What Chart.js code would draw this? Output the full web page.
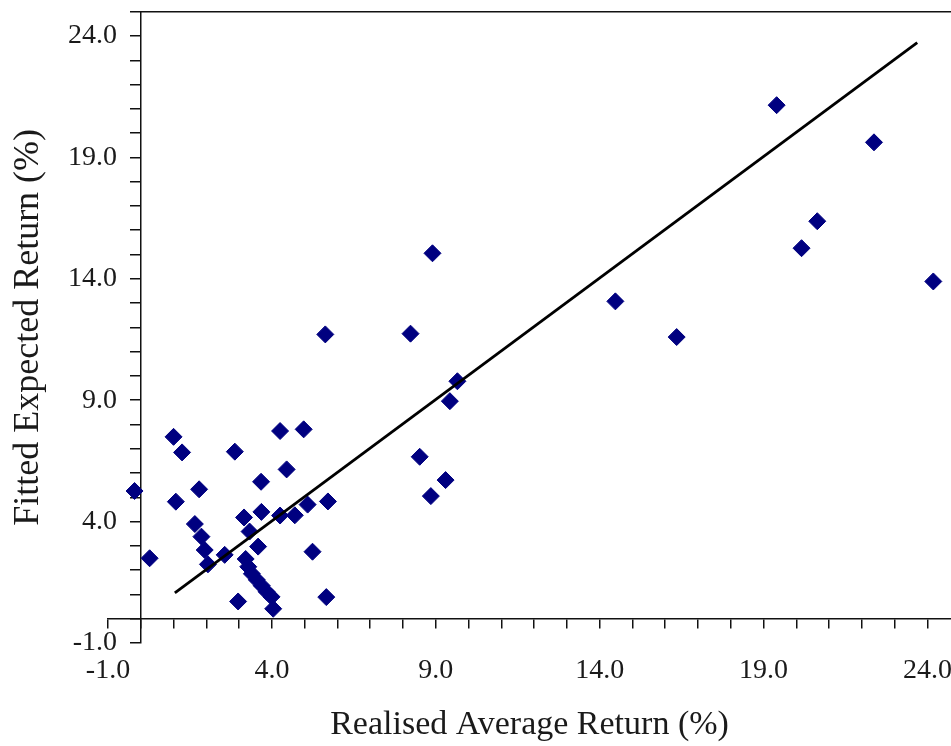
<!DOCTYPE html>
<html>
<head>
<meta charset="utf-8">
<script src="https://cdn.jsdelivr.net/npm/chart.js@4/dist/chart.umd.min.js"></script>
<style>
  html, body { margin: 0; padding: 0; background: #ffffff; overflow: hidden; }
  canvas { display: block; }
</style>
</head>
<body>
<canvas id="c" width="951" height="746"></canvas>
<script>
// ---- data ----
const realisedReturn = [
  1.00, 1.26, 2.87, 4.25, 4.97, -0.19, 1.78, 3.67, 4.45, 1.07,
  3.68, 3.15, 4.25, 4.70, 5.09, 5.71, 1.65, 1.85, 1.95, 2.05,
  0.27, 2.56, 3.32, 3.58, 5.24, 3.20, 3.28, 3.39, 3.54, 3.69,
  3.84, 3.99, 4.04, 2.97, 5.66, 5.63, 8.23, 8.90, 14.48, 16.35,
  9.66, 9.43, 8.51, 9.30, 8.85, 19.40, 22.37, 20.64, 20.16, 24.18
];
const fittedReturn = [
  7.49, 6.85, 6.88, 7.73, 7.80, 5.26, 5.33, 5.64, 6.15, 4.82,
  4.40, 4.17, 4.25, 4.26, 4.70, 4.83, 3.90, 3.38, 2.83, 2.24,
  2.49, 2.63, 3.59, 2.97, 2.76, 2.46, 2.14, 1.85, 1.60, 1.36,
  1.11, 0.90, 0.41, 0.71, 0.89, 11.71, 11.74, 15.05, 13.07, 11.60,
  9.78, 8.96, 6.67, 5.71, 5.05, 21.15, 19.62, 16.37, 15.26, 13.89
];
const fitLineX = [1.04, 23.69];
const fitLineY = [1.06, 23.73];
const tickValues = [-1, 4, 9, 14, 19, 24];
const xAxisTitle = 'Realised Average Return (%)';
const yAxisTitle = 'Fitted Expected Return (%)';

// ---- styling ----
const FONT = "'Liberation Serif', 'DejaVu Serif', serif";
const TEXT = '#1a1a1a';
const AXIS = '#111111';
const POINT = '#000080';

const points = realisedReturn.map((x, i) => ({ x: x, y: fittedReturn[i] }));
const fitLine = fitLineX.map((x, i) => ({ x: x, y: fitLineY[i] }));

const topFrame = {
  id: 'topFrame',
  afterDraw(chart) {
    const { ctx, chartArea, scales } = chart;
    const x0 = scales.x.getPixelForValue(0);
    const yTop = scales.y.getPixelForValue(scales.y.max);
    ctx.save();
    ctx.strokeStyle = AXIS;
    ctx.lineWidth = 1.5;
    ctx.beginPath();
    ctx.moveTo(x0, yTop);
    ctx.lineTo(chartArea.right, yTop);
    ctx.stroke();
    ctx.restore();
  }
};

new Chart(document.getElementById('c'), {
  type: 'scatter',
  data: {
    datasets: [
      {
        type: 'line',
        label: 'Fit',
        data: fitLine,
        borderColor: '#000000',
        borderWidth: 2.8,
        pointRadius: 0,
        fill: false,
        order: 0
      },
      {
        label: 'Portfolios',
        data: points,
        pointStyle: 'rectRot',
        pointRadius: 8.5,
        pointBackgroundColor: POINT,
        pointBorderColor: POINT,
        pointBorderWidth: 1,
        order: 1
      }
    ]
  },
  options: {
    responsive: false,
    devicePixelRatio: 1,
    animation: false,
    layout: { autoPadding: false, padding: { top: 11.7, right: 0, bottom: 0, left: 0 } },
    plugins: { legend: { display: false }, tooltip: { enabled: false } },
    scales: {
      x: {
        type: 'linear',
        position: 'bottom',
        min: -1,
        max: 24.72,
        border: { display: false },
        grid: { display: false, drawTicks: false, tickLength: 0 },
        afterBuildTicks: s => { s.ticks = tickValues.map(v => ({ value: v })); },
        ticks: {
          autoSkip: false, maxRotation: 0, padding: 11, color: TEXT,
          font: { family: FONT, size: 28 },
          callback: v => Number(v).toFixed(1)
        },
        title: {
          display: true, text: xAxisTitle, color: TEXT,
          font: { family: FONT, size: 34 },
          padding: { top: 0, bottom: 1 }
        },
        afterFit: s => { s.height = 103; s.paddingLeft = 0; s.paddingRight = 0; }
      },
      y: {
        type: 'linear',
        position: 'left',
        min: -1,
        max: 25,
        border: { display: false },
        grid: { display: false, drawTicks: false, tickLength: 0 },
        afterBuildTicks: s => { s.ticks = tickValues.map(v => ({ value: v })); },
        ticks: {
          autoSkip: false, mirror: true, crossAlign: 'far', padding: -40, color: TEXT,
          font: { family: FONT, size: 28 },
          callback: v => Number(v).toFixed(1)
        },
        title: {
          display: true, text: yAxisTitle, color: TEXT,
          font: { family: FONT, size: 36 },
          padding: { top: 6.5, bottom: 0 }
        },
        afterFit: s => { s.width = 108; s.paddingTop = 0; s.paddingBottom = 0; }
      },
      xAxisLine: {
        type: 'linear',
        axis: 'x',
        position: { y: 0 },
        min: -1,
        max: 24.72,
        border: { display: true, color: AXIS, width: 1.5 },
        grid: { drawOnChartArea: false, drawTicks: true, tickLength: 9, color: AXIS, lineWidth: 1.5 },
        ticks: { display: false, stepSize: 1, includeBounds: false }
      },
      yAxisLine: {
        type: 'linear',
        axis: 'y',
        position: { x: 0 },
        min: -1,
        max: 25,
        border: { display: true, color: AXIS, width: 1.5 },
        grid: { drawOnChartArea: false, drawTicks: true, tickLength: 10, color: AXIS, lineWidth: 1.5 },
        ticks: { display: false, stepSize: 1, includeBounds: false }
      }
    }
  },
  plugins: [topFrame]
});
</script>
</body>
</html>
